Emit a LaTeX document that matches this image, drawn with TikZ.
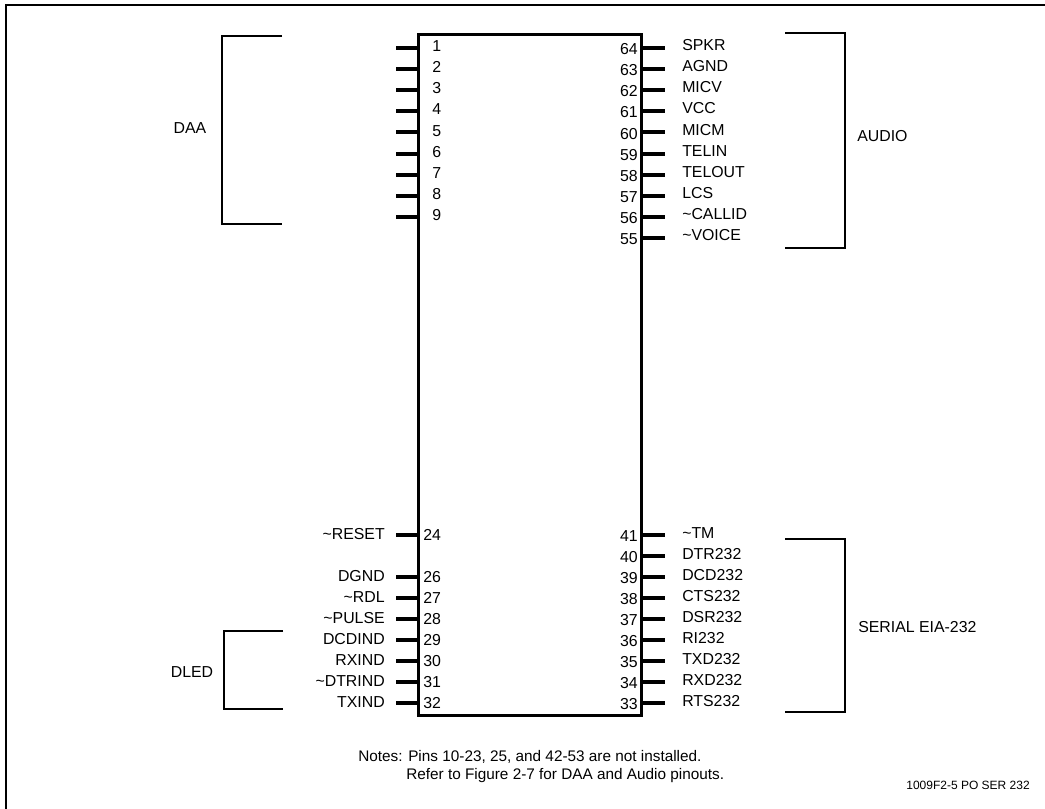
\documentclass[tikz,border=0pt]{standalone}
\usepackage{fontspec}
\setmainfont{Liberation Sans}
\begin{document}
\begin{tikzpicture}[x=0.75pt,y=-0.75pt,
		font=\fontsize{11.9}{13}\selectfont,
		pinline/.style={line width=3pt},
		bracket/.style={line width=1pt},
		lbl/.style={inner sep=0pt,text height=8.5pt,text depth=0pt}]
	\useasboundingbox (0,0) rectangle (1045,808);
	\clip (0,0) rectangle (1045,808);
	% outer frame, cut by the page
	\draw [line width=1.5pt] (6,830) -- (6,5) -- (1070,5);
	% the module
	\node (chip) [draw, line width=2.25pt, inner sep=0pt, minimum width=167.25pt, minimum height=510.75pt] at (529.5,374.5) {};
	% DAA pins
	\foreach \n in {1,...,9} {
		\pgfmathsetmacro\yy{48+21.1*(\n-1)}
		\draw [pinline] (chip.west |- 0,\yy) -- ++(-21,0) coordinate (p\n);
		\node (n\n) [lbl, anchor=west] at (432,\yy-2) {\n};
	}
	% audio pins
	\foreach \n/\name [count=\i from 0] in {64/SPKR,63/AGND,62/MICV,61/VCC,60/MICM,59/TELIN,58/TELOUT,57/LCS,56/\textasciitilde CALLID,55/\textasciitilde VOICE} {
		\pgfmathsetmacro\yy{48+21.1*\i}
		\draw [pinline] (chip.east |- 0,\yy) -- ++(22,0) coordinate (p\n);
		\node (n\n) [lbl, anchor=east] at (638,\yy+1) {\n};
		\node (l\n) [lbl, anchor=west] at (682,\yy-3) {\name};
	}
	% lower left pins
	\foreach \n/\name in {24/\textasciitilde RESET,26/DGND,27/\textasciitilde RDL,28/\textasciitilde PULSE,29/DCDIND,30/RXIND,31/\textasciitilde DTRIND,32/TXIND} {
		\pgfmathsetmacro\yy{535+21*(\n-24)}
		\draw [pinline] (chip.west |- 0,\yy) -- ++(-21,0) coordinate (p\n);
		\node (n\n) [lbl, anchor=west] at (423,\yy) {\n};
		\node (l\n) [lbl, anchor=east] at (385,\yy-1) {\name};
	}
	% lower right pins
	\foreach \n/\name in {41/\textasciitilde TM,40/DTR232,39/DCD232,38/CTS232,37/DSR232,36/RI232,35/TXD232,34/RXD232,33/RTS232} {
		\pgfmathsetmacro\yy{535+21*(41-\n)}
		\draw [pinline] (chip.east |- 0,\yy) -- ++(22,0) coordinate (p\n);
		\node (n\n) [lbl, anchor=east] at (638,\yy+1) {\n};
		\node (l\n) [lbl, anchor=west] at (682,\yy-2) {\name};
	}
	% groups
	\draw [bracket] (282,36) -- (222,36) -- (222,224) -- (282,224);
	\node (daa) [lbl] at (190,128) {DAA};
	\draw [bracket] (785,33) -- (845,33) -- (845,248) -- (785,248);
	\node (audio) [lbl, anchor=west] at (857,136) {AUDIO};
	\draw [bracket] (283,631) -- (224,631) -- (224,709) -- (283,709);
	\node (dled) [lbl] at (192,672) {DLED};
	\draw [bracket] (785,539) -- (845,539) -- (845,712) -- (785,712);
	\node (serial) [lbl, anchor=west] at (858,627) {SERIAL EIA-232};
	% notes
	\node (note1) [lbl, anchor=west, font=\fontsize{11.5}{13}\selectfont] at (358,756) {Notes: Pins 10-23, 25, and 42-53 are not installed.};
	\node (note2) [lbl, anchor=west, font=\fontsize{11.5}{13}\selectfont] at (406,774) {Refer to Figure 2-7 for DAA and Audio pinouts.};
	\node (figno) [lbl, anchor=east, font=\fontsize{9}{10}\selectfont] at (1030,784) {1009F2-5 PO SER 232};
\end{tikzpicture}
\end{document}
